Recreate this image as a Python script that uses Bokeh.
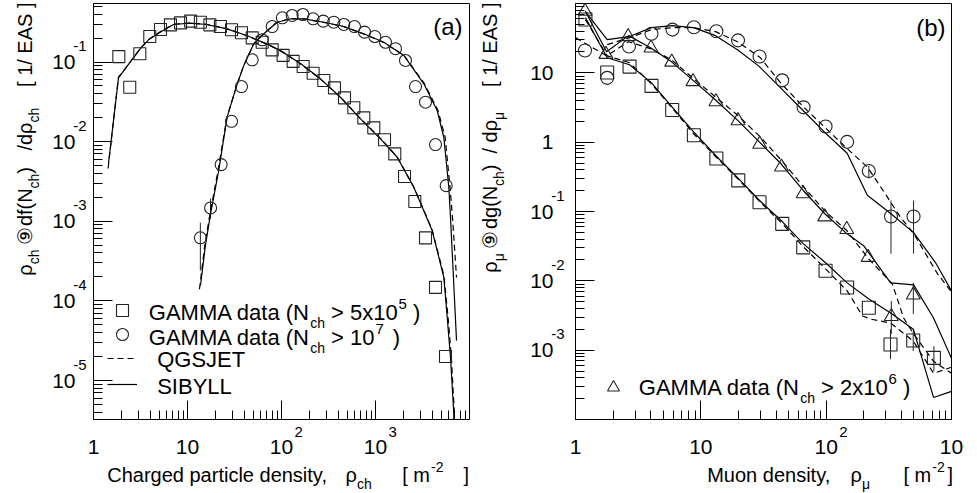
import math
from bokeh.plotting import figure
from bokeh.layouts import row, column
from bokeh.models import (FixedTicker, Label, Legend, LegendItem, Range1d, LogAxis,
                          LogScale, CustomJSTickFormatter)
from bokeh.embed import file_html
from bokeh.resources import INLINE

FONT = "Liberation Sans"

# ---------------- panel (a): charged particle density ----------------
A_SQ_X = [1.86, 2.43, 3.11, 3.97, 5.16, 6.59, 8.43, 10.8, 13.7, 17.3, 22.4, 29.4, 37.5, 48.8,
          62.3, 79.6, 104, 133, 170, 217, 282, 366, 468, 588, 751, 959, 1247, 1604, 2036,
          2620, 3404, 4348, 5555]
A_SQ_Y = [0.117, 0.0482, 0.127, 0.209, 0.256, 0.293, 0.310, 0.326, 0.316, 0.293, 0.279, 0.254,
          0.233, 0.201, 0.177, 0.142, 0.121, 0.102, 0.0878, 0.0723, 0.0586, 0.0474, 0.0355,
          0.0266, 0.0199, 0.0149, 0.01054, 0.00703, 0.00365, 0.00177, 6.18e-4, 1.48e-4, 2.0e-5]

A_CI_X = [13.7, 17.6, 22.8, 29.4, 37.5, 48.8, 62.3, 79.6, 102, 130, 169, 217, 278, 360, 460,
          598, 764, 984, 1277, 1632, 2084, 2665, 3404, 4348, 5650]
A_CI_Y = [6.2e-4, 1.47e-3, 5.15e-3, 0.0180, 0.0492, 0.1066, 0.190, 0.279, 0.359, 0.384, 0.395,
          0.349, 0.326, 0.316, 0.296, 0.279, 0.237, 0.209, 0.177, 0.147, 0.1045, 0.0492,
          0.0313, 0.0092, 0.0028]
A_CI_ERR_X = [13.7, 17.6]
A_CI_ERR_LO = [2.4e-4, 1.08e-3]
A_CI_ERR_HI = [9.6e-4, 1.93e-3]

A_SIB1_X = [1.445, 1.845, 2.455, 3.14, 3.85, 5.12, 7.10, 10.7, 16.0, 26.2, 42.7, 69.8, 97.5,
            159, 260, 424, 692, 1130, 1702, 2555, 4008, 5330, 5794, 6281, 6810, 6860]
A_SIB1_Y = [5.35e-3, 0.0633, 0.0994, 0.1466, 0.190, 0.237, 0.296, 0.307, 0.296, 0.261, 0.215,
            0.169, 0.139, 0.0958, 0.0615, 0.0361, 0.0193, 0.01083, 6.37e-3, 2.67e-3, 7.64e-4,
            1.98e-4, 6.2e-5, 1.95e-5, 3.8e-6, 2.3e-6]
A_QGS1_X = [1.43, 1.84, 2.45, 3.14, 3.85, 5.12, 7.10, 10.7, 16.0, 26.2, 42.7, 69.8, 97.5,
            159, 260, 424, 692, 1130, 1702, 2555, 4008, 5330, 5900, 6400, 6900, 6950]
A_QGS1_Y = [4.6e-3, 0.0640, 0.100, 0.148, 0.192, 0.240, 0.298, 0.309, 0.297, 0.262, 0.214,
            0.168, 0.138, 0.0950, 0.0610, 0.0360, 0.0195, 0.0110, 6.4e-3, 2.7e-3, 7.8e-4,
            2.1e-4, 6.5e-5, 2.0e-5, 4.0e-6, 2.3e-6]

A_SIB2_X = [13.75, 15.5, 17.6, 21.5, 26.4, 33.8, 39.7, 50.7, 64.8, 90.0, 125, 173, 282, 460,
            751, 1225, 2000, 3265, 4530, 5330, 6026, 6281, 7278]
A_SIB2_Y = [1.56e-4, 4.95e-4, 1.25e-3, 4.34e-3, 0.0203, 0.0532, 0.0903, 0.1694, 0.226, 0.316,
            0.349, 0.349, 0.316, 0.279, 0.226, 0.177, 0.121, 0.0532, 0.0246, 0.01135, 2.67e-3,
            1.12e-3, 3.17e-5]
A_QGS2_X = [13.4, 15.2, 17.3, 21.1, 26.2, 33.8, 39.7, 50.7, 64.8, 90.0, 125, 173, 282, 460,
            751, 1225, 2000, 3300, 4600, 5500, 6200, 6592, 7278]
A_QGS2_Y = [1.4e-4, 4.8e-4, 1.22e-3, 4.3e-3, 0.0200, 0.0530, 0.0905, 0.170, 0.228, 0.318,
            0.350, 0.348, 0.315, 0.278, 0.225, 0.176, 0.122, 0.0540, 0.0250, 0.0115, 2.7e-3,
            1.12e-3, 1.96e-4]

# ---------------- panel (b): muon density ----------------
B_SQ_X = [1.20, 1.79, 2.70, 4.04, 5.91, 8.80, 13.3, 19.9, 29.4, 44.6, 65.6, 98.9, 147, 219,
          326, 495, 724]
B_SQ_Y = [58.7, 10.1, 12.3, 6.48, 2.91, 1.26, 0.581, 0.281, 0.136, 0.0664, 0.0304, 0.01397,
          8.0e-3, 4.1e-3, 1.21e-3, 1.38e-3, 7.73e-4]
B_SQ_ERR_X = [326, 495, 724]
B_SQ_ERR_LO = [7.4e-4, 9.7e-4, 4.97e-4]
B_SQ_ERR_HI = [2.0e-3, 1.88e-3, 1.14e-3]

B_CI_X = [1.19, 1.79, 2.67, 4.04, 5.94, 8.80, 13.3, 19.8, 29.4, 44.6, 66.0, 98.9, 147, 219,
          329, 498]
B_CI_Y = [21.0, 8.47, 24.0, 36.7, 42.0, 45.4, 39.7, 29.4, 17.2, 7.79, 3.18, 1.68, 1.01, 0.384,
          0.0847, 0.0847]
B_CI_ERR_X = [219, 329, 498]
B_CI_ERR_LO = [0.30, 0.0246, 0.0246]
B_CI_ERR_HI = [0.46, 0.144, 0.144]

B_TR_X = [1.19, 1.75, 2.63, 4.0, 5.86, 8.66, 13.2, 19.8, 29.5, 44.0, 65.6, 97.4, 146, 216,
          331, 496]
B_TR_Y = [77.3, 18.5, 33.3, 22.8, 14.3, 7.48, 3.84, 2.04, 0.935, 0.438, 0.181, 0.0838, 0.0552,
          0.0218, 3.06e-3, 6.26e-3]
B_TR_ERR_X = [331, 496]
B_TR_ERR_LO = [1.71e-3, 3.33e-3]
B_TR_ERR_HI = [5.1e-3, 9.35e-3]

B_S1_X = [1.20, 1.79, 2.70, 4.04, 5.91, 8.80, 13.3, 19.9, 29.4, 44.6, 65.6, 98.9, 147, 219,
          327, 496, 719, 1000]
B_S1_Y = [62.7, 16.5, 13.1, 7.17, 3.21, 1.40, 0.627, 0.301, 0.144, 0.0716, 0.0344, 0.0182,
          9.35e-3, 5.48e-3, 3.44e-3, 2.01e-3, 2.08e-4, 2.55e-4]
B_D1_X = [1.20, 1.79, 2.70, 4.04, 5.91, 8.80, 13.3, 19.9, 29.4, 44.6, 65.6, 98.9, 147, 195,
          226, 327, 496, 719, 1000]
B_D1_Y = [58.6, 17.6, 14.0, 6.93, 3.11, 1.31, 0.606, 0.291, 0.140, 0.0670, 0.0311, 0.0149,
          7.16e-3, 3.11e-3, 2.81e-3, 2.46e-3, 1.35e-3, 4.64e-4, 5.67e-4]
B_S2_X = [1.20, 1.77, 2.65, 3.97, 5.84, 8.59, 13.1, 19.6, 29.4, 44.0, 65.6, 97.1, 146, 199,
          327, 499, 719, 1000]
B_S2_Y = [76.6, 20.2, 34.4, 23.0, 14.4, 7.92, 4.06, 2.08, 1.0, 0.480, 0.201, 0.0935, 0.0480,
          0.0321, 9.35e-3, 8.75e-3, 2.91e-3, 7.65e-4]
B_D2_X = [1.0, 1.77, 2.65, 3.97, 5.84, 8.59, 13.1, 19.6, 29.4, 44.0, 65.6, 97.1, 146, 218,
          337, 415, 499, 719, 1000]
B_D2_Y = [32.2, 17.6, 28.1, 22.3, 15.4, 8.47, 4.49, 2.46, 1.22, 0.548, 0.230, 0.103, 0.0531,
          0.0208, 9.05e-3, 2.91e-3, 1.71e-3, 6.93e-4, 4.64e-4]
B_S3_X = [1.20, 1.79, 2.67, 4.04, 5.94, 8.74, 13.1, 19.6, 28.9, 43.3, 64.8, 95.3, 147, 213,
          327, 499, 747, 1000]
B_S3_Y = [76.6, 30.1, 33.2, 44.9, 48.0, 44.9, 34.4, 21.5, 12.6, 6.07, 2.91, 1.44, 0.693,
          0.171, 0.0935, 0.0496, 0.0182, 7.16e-3]
B_D3_X = [1.79, 2.70, 4.04, 5.94, 8.74, 13.1, 19.6, 29.9, 43.3, 66.0, 98.9, 143, 214, 309,
          393, 499, 774, 984]
B_D3_Y = [25.5, 32.2, 42.0, 44.9, 44.9, 39.3, 28.1, 16.5, 7.17, 3.21, 1.60, 0.847, 0.434,
          0.160, 0.0819, 0.0480, 0.0126, 7.16e-3]

# ---------------- axes ----------------
A_XMIN, A_XMAX = 1.0, 1.0e4
A_YMIN, A_YMAX = 3.24e-6, 0.543
B_XMIN, B_XMAX = 1.0, 1.0e3
B_YMIN, B_YMAX = 1.0e-4, 100.0

A_XMAJOR = [1, 10, 100, 1000]
A_YMAJOR = [1e-5, 1e-4, 1e-3, 1e-2, 1e-1]
B_XMAJOR = [1, 10, 100, 1000]
B_YMAJOR = [1e-3, 1e-2, 1e-1, 1, 10]
A_X_EXP_TICKS = [100, 1000]
A_Y_EXP_TICKS = [1e-1, 1e-2, 1e-3, 1e-4, 1e-5]
B_X_EXP_TICKS = [100, 1000]
B_Y_EXP_TICKS = [1e-1, 1e-2, 1e-3]

# ---------------- layout (px) ----------------
PH = 460          # height of the two plot canvases
TH = 33           # height of the x-title strip below them
FW, FH = 376, 416
YA_W, PA_W, YB_W, PB_W = 42, 430, 50, 454
MID = 0.35        # baseline -> middle-of-text offset, in em
V_SCALE, V_OFF = 0.91, 6.0   # empirical placement correction of the rotated title strips

# Arial / Liberation Sans advance widths (1/1000 em)
AW = {' ': 278, '(': 333, ')': 333, '[': 278, ']': 278, '/': 278, ',': 278, '-': 333,
      '>': 584, 'A': 667, 'B': 667, 'C': 722, 'E': 667, 'G': 778, 'I': 278, 'J': 500,
      'L': 556, 'M': 833, 'N': 722, 'Q': 778, 'S': 667, 'T': 611, 'Y': 667, 'a': 556,
      'c': 500, 'd': 556, 'e': 556, 'f': 278, 'g': 556, 'h': 556, 'i': 222, 'l': 222,
      'm': 833, 'n': 556, 'o': 556, 'p': 556, 'r': 333, 's': 500, 't': 278, 'u': 556,
      'x': 500, 'y': 500, 'ρ': 578, 'μ': 576, '⑨': 840}


def tw(s, size):
    return sum(AW.get(c, 556) for c in s) * size / 1000.0


def minors(lo, hi):
    out = []
    for k in range(math.floor(math.log10(lo)) - 1, math.ceil(math.log10(hi)) + 1):
        for m in range(2, 10):
            v = m * 10.0 ** k
            if lo < v < hi:
                out.append(v)
    return out


def shifted(lo, hi, px, span_px):
    d = px / span_px * math.log10(hi / lo)
    return (lo * 10 ** (-d), hi * 10 ** (-d))


TEN_JS = "return Math.abs(tick - 1) < 1e-9 ? '1' : '10';"
EXP_JS = "return String(Math.round(Math.log10(tick)));"
NONE_JS = "return '';"


def add_axis(p, side, range_name, ticks, code, size, standoff, minor=(),
             tick_in=0, minor_in=0, line=False):
    kw = {}
    if range_name:
        kw["x_range_name" if side == "below" else "y_range_name"] = range_name
    ax = LogAxis(ticker=FixedTicker(ticks=list(ticks), minor_ticks=list(minor)),
                 formatter=CustomJSTickFormatter(code=code), **kw)
    ax.major_tick_in = tick_in
    ax.major_tick_out = 0
    ax.minor_tick_in = minor_in
    ax.minor_tick_out = 0
    ax.axis_line_color = "black" if line else None
    ax.major_tick_line_color = "black" if tick_in else None
    ax.minor_tick_line_color = "black" if minor_in else None
    ax.major_label_text_font = FONT
    ax.major_label_text_font_size = f"{size}px"
    ax.major_label_text_color = "black"
    ax.major_label_standoff = standoff
    p.add_layout(ax, side)
    return ax


def make_panel(width, mbl, mbr, xr, yr, xmajor, ymajor, xexp, yexp, exp_y_standoff):
    p = figure(width=width, height=PH, x_axis_type="log", y_axis_type="log",
               x_axis_location=None, y_axis_location=None, title=None,
               x_range=Range1d(*xr), y_range=Range1d(*yr),
               output_backend="svg", toolbar_location=None,
               min_border_left=mbl, min_border_right=mbr, min_border_top=3,
               min_border_bottom=PH - 3 - FH)
    p.grid.visible = False
    p.outline_line_color = "black"
    p.outline_line_width = 1
    p.extra_x_ranges = {"ex": Range1d(*shifted(xr[0], xr[1], 17.2, FW))}
    p.extra_x_scales = {"ex": LogScale()}
    p.extra_y_ranges = {"ey": Range1d(*shifted(yr[0], yr[1], 16.0, FH))}
    p.extra_y_scales = {"ey": LogScale()}
    # bottom: tick marks, exponents, mantissas (inner to outer)
    add_axis(p, "below", None, xmajor, NONE_JS, 1, 0, minor=minors(*xr),
             tick_in=19, minor_in=9, line=True)
    add_axis(p, "below", "ex", xexp, EXP_JS, 15, 7)
    add_axis(p, "below", None, xmajor, TEN_JS, 21, 0)
    # left: tick marks, exponents, mantissas (inner to outer)
    add_axis(p, "left", None, ymajor, NONE_JS, 1, 0, minor=minors(*yr),
             tick_in=19, minor_in=9, line=True)
    add_axis(p, "left", "ey", yexp, EXP_JS, 15, exp_y_standoff)
    add_axis(p, "left", None, ymajor, TEN_JS, 21, -5)
    return p


def strip(width, height):
    s = figure(width=width, height=height, x_range=Range1d(0, width),
               y_range=Range1d(0, height), x_axis_location=None, y_axis_location=None,
               title=None, output_backend="svg", toolbar_location=None, min_border=0,
               min_border_left=0, min_border_right=0, min_border_top=0,
               min_border_bottom=0)
    s.grid.visible = False
    s.outline_line_color = None
    return s


def lab(p, x, y, text, size, dx=0.0, dy=0.0, align="left", angle=0.0):
    """Place text whose BASELINE is at (x+dx, y+dy); anchored at its middle."""
    if angle == 0.0:
        dy = dy + MID * size
    else:
        x = x - MID * size
    p.add_layout(Label(x=x, y=y, x_units="data", y_units="data", x_offset=dx, y_offset=dy,
                       text=text, text_font=FONT, text_font_size=f"{size}px",
                       text_color="black", text_align=align, text_baseline="middle",
                       angle=angle))


def run_h(p, ax, ay, y0, pieces, size, ssub, ssup, drop, rise, x0=0.0):
    cur = 0.0
    for text, kind, start, gap in pieces:
        cur = start if start is not None else cur + gap
        fs = size if kind == "n" else (ssub if kind == "sub" else ssup)
        dy = y0 + (-drop if kind == "sub" else (rise if kind == "sup" else 0))
        lab(p, ax, ay, text, fs, x0 + cur, dy)
        cur += tw(text, fs)


def run_v(p, xbase, ytop_total, pieces, size, ssub, drop):
    """Rotated (bottom-to-top) text; starts are target canvas y (from top)."""
    cur = 0.0
    for text, kind, start, gap in pieces:
        if start is not None:
            cur = ytop_total - (start - V_OFF) / V_SCALE
        else:
            cur = cur + gap
        fs = size if kind == "n" else ssub
        x = xbase + (drop if kind == "sub" else 0)
        lab(p, x, cur, text, fs, angle=math.pi / 2)
        cur += tw(text, fs) / V_SCALE


def one_legend(p, r, x, y):
    p.add_layout(Legend(items=[LegendItem(label=" ", renderers=[r])], location=(x, y),
                        glyph_width=30, glyph_height=30, padding=0, margin=0, spacing=0,
                        label_standoff=0, label_width=0, label_height=0,
                        label_text_font_size="1px", border_line_alpha=0,
                        background_fill_alpha=0))


INK = "#222222"
LG = 22

# ================= panel (a) =================
pa = make_panel(PA_W, 93 - YA_W, YA_W + PA_W - 469, (A_XMIN, A_XMAX), (A_YMIN, A_YMAX),
                A_XMAJOR, A_YMAJOR, A_X_EXP_TICKS, A_Y_EXP_TICKS, 7)

pa.segment(x0=A_CI_ERR_X, y0=A_CI_ERR_LO, x1=A_CI_ERR_X, y1=A_CI_ERR_HI,
           line_color=INK, line_width=1)
r_q = pa.line(A_QGS1_X, A_QGS1_Y, line_color="black", line_width=1.2, line_dash="6 4")
pa.line(A_QGS2_X, A_QGS2_Y, line_color="black", line_width=1.2, line_dash="6 4")
r_s = pa.line(A_SIB1_X, A_SIB1_Y, line_color="black", line_width=1.2)
pa.line(A_SIB2_X, A_SIB2_Y, line_color="black", line_width=1.2)
r_sq = pa.scatter(A_SQ_X, A_SQ_Y, marker="square", size=12, line_color=INK,
                  fill_color=None, line_width=1.1)
r_ci = pa.scatter(A_CI_X, A_CI_Y, marker="circle", size=12, line_color=INK,
                  fill_color=None, line_width=1.1)

one_legend(pa, r_sq, 14, 94)
one_legend(pa, r_ci, 14, 69.7)
one_legend(pa, r_q, 14, 45.7)
one_legend(pa, r_s, 14, 20)

run_h(pa, A_XMIN, A_YMIN, 99, [("GAMMA data (N", "n", 55.3, 0), ("ch", "sub", None, 0),
                               ("> 5x10", "n", None, 6), ("5", "sup", None, 1),
                               (")", "n", None, 6)], LG, 14, 15, 7, 11)
run_h(pa, A_XMIN, A_YMIN, 74, [("GAMMA data (N", "n", 55.3, 0), ("ch", "sub", None, 0),
                               ("> 10", "n", None, 6), ("7", "sup", None, 1),
                               (")", "n", None, 9)], LG, 14, 15, 7, 11)
run_h(pa, A_XMIN, A_YMIN, 52.3, [("QGSJET", "n", 63.7, 0)], LG, 14, 15, 7, 11)
run_h(pa, A_XMIN, A_YMIN, 25.7, [("SIBYLL", "n", 63.7, 0)], LG, 14, 15, 7, 11)

lab(pa, A_XMAX, A_YMAX, "(a)", 24, -7, -31, align="right")

# ================= panel (b) =================
pb = make_panel(PB_W, 575 - (YA_W + PA_W + YB_W), YA_W + PA_W + YB_W + PB_W - 951,
                (B_XMIN, B_XMAX), (B_YMIN, B_YMAX), B_XMAJOR, B_YMAJOR,
                B_X_EXP_TICKS, B_Y_EXP_TICKS, 11)

pb.segment(x0=B_SQ_ERR_X, y0=B_SQ_ERR_LO, x1=B_SQ_ERR_X, y1=B_SQ_ERR_HI,
           line_color=INK, line_width=1)
pb.segment(x0=B_CI_ERR_X, y0=B_CI_ERR_LO, x1=B_CI_ERR_X, y1=B_CI_ERR_HI,
           line_color=INK, line_width=1)
pb.segment(x0=B_TR_ERR_X, y0=B_TR_ERR_LO, x1=B_TR_ERR_X, y1=B_TR_ERR_HI,
           line_color=INK, line_width=1)
for xs, ys in [(B_D1_X, B_D1_Y), (B_D2_X, B_D2_Y), (B_D3_X, B_D3_Y)]:
    pb.line(xs, ys, line_color="black", line_width=1.2, line_dash="6 4")
for xs, ys in [(B_S1_X, B_S1_Y), (B_S2_X, B_S2_Y), (B_S3_X, B_S3_Y)]:
    pb.line(xs, ys, line_color="black", line_width=1.2)
pb.scatter(B_SQ_X, B_SQ_Y, marker="square", size=13, line_color=INK, fill_color=None,
           line_width=1.1)
pb.scatter(B_CI_X, B_CI_Y, marker="circle", size=13, line_color=INK, fill_color=None,
           line_width=1.1)
r_tr = pb.scatter(B_TR_X, B_TR_Y, marker="triangle", size=14, line_color=INK,
                  fill_color=None, line_width=1.1)

one_legend(pb, r_tr, 22.7, 17.3)
run_h(pb, B_XMIN, B_YMIN, 24, [("GAMMA data (N", "n", 63.3, 0), ("ch", "sub", None, 0),
                               ("> 2x10", "n", None, 6), ("6", "sup", None, 1),
                               (")", "n", None, 6)], LG, 14, 15, 7, 11)

lab(pb, B_XMAX, B_YMAX, "(b)", 24, -6, -32.7, align="right")

# ================= axis titles =================
# y titles: rotated strips left of each panel (baseline x, piece starts as canvas y)
ya = strip(YA_W, PH)
run_v(ya, 31.0, PH, [("ρ", "n", 280.0, 0), ("ch", "sub", None, 0),
                     ("⑨", "n", 249.0, 0), ("df(N", "n", 230.0, 0), ("ch", "sub", None, 0),
                     (")", "n", None, 0), ("/dρ", "n", 154.0, 0), ("ch", "sub", None, 0),
                     ("[ 1/ EAS ]", "n", 90.0, 0)], 20, 14, 7)

yb = strip(YB_W, PH)
run_v(yb, 496.0 - (YA_W + PA_W), PH,
      [("ρ", "n", 277.0, 0), ("μ", "sub", None, 0),
       ("⑨", "n", 253.0, 0), ("dg(N", "n", 233.0, 0), ("ch", "sub", None, 0),
       (")", "n", None, 0), ("/ dρ", "n", 157.0, 0), ("μ", "sub", None, 0),
       ("[ 1/ EAS ]", "n", 90.0, 0)], 20, 14, 7.5)

# x titles: one strip below both panels (x = canvas x, baseline measured from its bottom)
TOTAL_W = YA_W + PA_W + YB_W + PB_W
xt = strip(TOTAL_W, TH)
XT_BASE = PH + TH - 481.0
run_h(xt, 0, 0, XT_BASE, [("Charged particle density,", "n", 106.7, 0), ("ρ", "n", 345.0, 0),
                          ("ch", "sub", None, 0), ("[ m", "n", 401.7, 0),
                          ("-2", "sup", None, 1), ("]", "n", 463.0, 0)], 20, 14, 14, 7.5, 10)
run_h(xt, 0, 0, XT_BASE, [("Muon density,", "n", 706.7, 0), ("ρ", "n", 850.0, 0),
                          ("μ", "sub", None, 0), ("[ m", "n", 903.0, 0),
                          ("-2", "sup", None, 1), ("]", "n", 947.0, 0)], 20, 14, 14, 7.5, 10)

layout = column(row(ya, pa, yb, pb), xt)
open("out.html", "w").write(file_html(layout, INLINE))
